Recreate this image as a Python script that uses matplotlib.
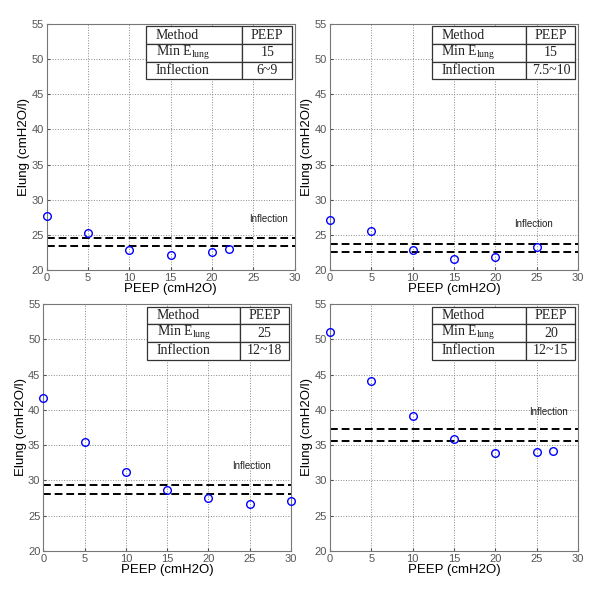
import numpy as np
import matplotlib
matplotlib.use('Agg')
import matplotlib.pyplot as plt

plt.rcParams['font.family'] = ['Liberation Sans', 'DejaVu Sans']

# data
peep_a = [0, 5, 10, 15, 20, 22]
elung_a = [27.7, 25.3, 22.8, 22.2, 22.5, 23.0]
infl_a = [24.5, 23.4]

peep_b = [0, 5, 10, 15, 20, 25]
elung_b = [27.05, 25.5, 22.8, 21.5, 21.8, 23.3]
infl_b = [23.7, 22.6]

peep_c = [0, 5, 10, 15, 20, 25, 30]
elung_c = [41.7, 35.5, 31.2, 28.7, 27.5, 26.6, 27.0]
infl_c = [29.35, 28.0]

peep_d = [0, 5, 10, 15, 20, 25, 27]
elung_d = [51.0, 44.1, 39.2, 35.8, 33.9, 34.0, 34.2]
infl_d = [37.3, 35.6]

min_elung = ['15', '15', '25', '20']
inflection = ['6~9', '7.5~10', '12~18', '12~15']
text_pos = [(24.5, 26.8), (22.3, 26.1), (22.9, 31.6), (24.1, 39.3)]

panels = [
    (peep_a, elung_a, infl_a, [0.078, 0.55, 0.413, 0.41], 0.40),
    (peep_b, elung_b, infl_b, [0.55, 0.55, 0.413, 0.41], 0.41),
    (peep_c, elung_c, infl_c, [0.072, 0.082, 0.413, 0.411], 0.42),
    (peep_d, elung_d, infl_d, [0.55, 0.082, 0.413, 0.411], 0.41),
]

fig = plt.figure(figsize=(6, 6), dpi=100)

for i, (x, y, infl, rect, tleft) in enumerate(panels):
    ax = fig.add_axes(rect)
    ax.plot(x, y, 'o', mfc='none', mec='blue', ms=5.5, mew=1.0, zorder=3, clip_on=False)
    for v in infl:
        ax.axhline(v, color='black', ls='--', lw=1.4, dashes=(4, 2))
    ax.text(text_pos[i][0], text_pos[i][1], 'Inflection', fontsize=7, color='#222222')
    ax.set_xlim(0, 30)
    ax.set_ylim(20, 55)
    ax.set_xticks(np.arange(0, 31, 5))
    ax.set_yticks(np.arange(20, 56, 5))
    ax.grid(True, ls=':', color='#888888', lw=0.7)
    ax.tick_params(labelsize=8, colors='#555555', length=2, direction='in', pad=2)
    for s in ax.spines.values():
        s.set_color('#777777')
        s.set_linewidth(0.8)
    ax.set_xlabel('PEEP (cmH2O)', fontsize=9.5, labelpad=0)
    ax.set_ylabel('Elung (cmH2O/l)', fontsize=9.5, labelpad=1)

    cells = [['Method', 'PEEP'],
             ['Min E$_{\\mathregular{lung}}$', min_elung[i]],
             ['Inflection', inflection[i]]]
    tb = ax.table(cellText=cells, cellLoc='left', colWidths=[0.66, 0.34],
                  bbox=[tleft, 0.775, 0.99 - tleft, 0.215], zorder=5)
    tb.auto_set_font_size(False)
    for (r, c), cell in tb.get_celld().items():
        cell.set_facecolor('white')
        cell.set_edgecolor('#333333')
        cell.set_linewidth(0.9)
        t = cell.get_text()
        t.set_fontfamily('Liberation Serif')
        t.set_fontsize(10)
        t.set_color('#222222')
        if c == 1:
            t.set_horizontalalignment('center')

fig.savefig('out.png', dpi=100)
